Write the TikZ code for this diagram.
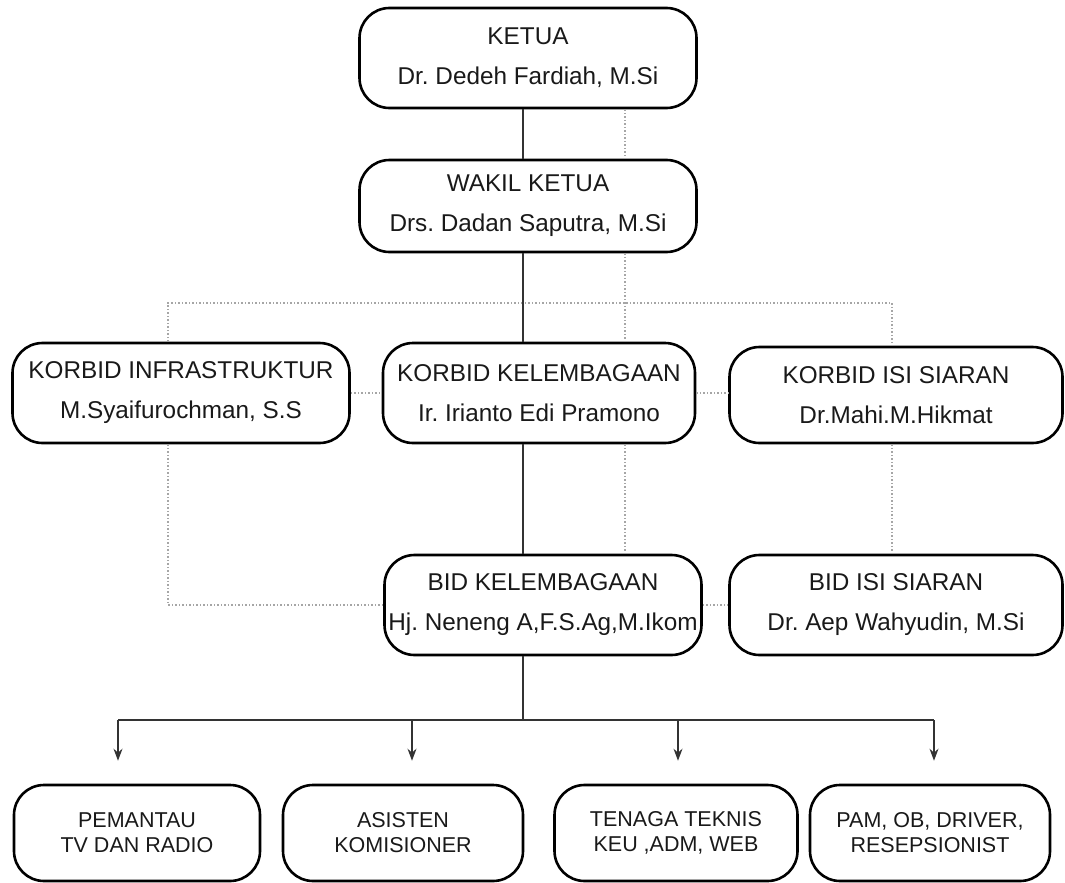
\documentclass[tikz,border=0pt]{standalone}
\usepackage{fontspec}
\setmainfont{Liberation Sans}
\frenchspacing
\usetikzlibrary{positioning,arrows.meta}

\begin{document}
\begin{tikzpicture}[x=1pt,y=-1pt,
		kotak/.style={draw,line width=2.6pt,rounded corners=30pt,align=center,inner sep=0pt,
			text=black!90,font=\fontsize{24.3}{40}\selectfont},
		kecil/.style={kotak,minimum width=242pt,minimum height=96pt,font=\fontsize{21.5}{25}\selectfont},
		garis/.style={line width=1.1pt,black!80},
		titik/.style={line width=1.2pt,gray!70,dash pattern=on 1.5pt off 2pt}]
	\useasboundingbox (0,0) rectangle (1065,883);
	\coordinate (sp) at (523,0);
	\coordinate (dt) at (625,0);
	\coordinate (xl) at (168,0);
	\coordinate (xr) at (892,0);
	\coordinate (atas) at (0,303);
	\coordinate (bus) at (0,720);
	\coordinate (a1) at (118,0);
	\coordinate (a2) at (412,0);
	\coordinate (a3) at (678,0);
	\coordinate (a4) at (934,0);

	\node[kotak,minimum width=337pt,minimum height=100pt] (ketua) at (528,58) {KETUA\\ Dr. Dedeh Fardiah, M.Si};
	\node[kotak,minimum width=337pt,minimum height=92pt] (wakil) at (528,206) {WAKIL KETUA\\ Drs. Dadan Saputra, M.Si};
	\node[kotak,minimum width=337pt,minimum height=100pt] (kinfra) at (181,393) {KORBID INFRASTRUKTUR\\ M.Syaifurochman, S.S};
	\node[kotak,minimum width=312pt,minimum height=100pt] (kkel) at (539,393) {KORBID KELEMBAGAAN\\ Ir. Irianto Edi Pramono};
	\node[kotak,minimum width=333pt,minimum height=96pt] (kisi) at (896,395) {KORBID ISI SIARAN\\ Dr.Mahi.M.Hikmat};
	\node[kotak,minimum width=317pt,minimum height=100pt] (bkel) at (543,605) {BID KELEMBAGAAN\\ Hj. Neneng A,F.S.Ag,M.Ikom};
	\node[kotak,minimum width=333pt,minimum height=100pt] (bisi) at (896,605) {BID ISI SIARAN\\ Dr. Aep Wahyudin, M.Si};

	\node[kecil,minimum width=246pt] (b1) at (137,833) {PEMANTAU\\TV DAN RADIO};
	\node[kecil,minimum width=240pt] (b2) at (403,833) {ASISTEN\\KOMISIONER};
	\node[kecil,minimum width=243pt] (b3) at (676,833) {TENAGA TEKNIS\\KEU ,ADM, WEB};
	\node[kecil,minimum width=240pt] (b4) at (930,833) {PAM, OB, DRIVER,\\RESEPSIONIST};

	\draw[titik] (ketua.south -| dt) -- (wakil.north -| dt);
	\draw[titik] (wakil.south -| dt) -- (kkel.north -| dt);
	\draw[titik] (kkel.south -| dt) -- (bkel.north -| dt);
	\draw[titik] (kinfra.north -| xl) |- (atas -| dt) -| (kisi.north -| xr);
	\draw[titik] (kinfra) -- (kkel);
	\draw[titik] (kkel.east) -- (kkel.east -| kisi.west);
	\draw[titik] (kisi.south -| xr) -- (bisi.north -| xr);
	\draw[titik] (bkel) -- (bisi);
	\draw[titik] (kinfra.south -| xl) |- (bkel.west);

	\draw[garis] (ketua.south -| sp) -- (wakil.north -| sp);
	\draw[garis] (wakil.south -| sp) -- (kkel.north -| sp);
	\draw[garis] (kkel.south -| sp) -- (bkel.north -| sp);
	\draw[garis] (bkel.south -| sp) -- (bus -| sp);
	\draw[garis] (bus -| a1) -- (bus -| a4);
	\path[garis,-{Stealth[length=12pt,width=9pt]},shorten >=23pt]
		(bus -| a1) edge (b1.north -| a1)
		(bus -| a2) edge (b2.north -| a2)
		(bus -| a3) edge (b3.north -| a3)
		(bus -| a4) edge (b4.north -| a4);
\end{tikzpicture}
\end{document}
